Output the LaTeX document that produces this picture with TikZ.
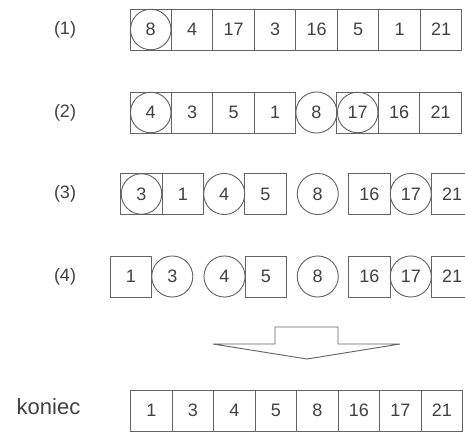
\documentclass[tikz,border=0pt]{standalone}
\usepackage{fontspec}
\setmainfont{Liberation Sans}
\usepackage{tikz}
\usetikzlibrary{positioning}
\definecolor{cLine}{RGB}{100,100,100}
\definecolor{cText}{RGB}{65,65,65}
\tikzset{
	cell/.style     ={rectangle, draw=cLine, line width=0.7pt, minimum width=31.1pt, minimum height=30.8pt, inner sep=0pt, outer sep=0pt, text=cText, font=\fontsize{13.5}{15}\selectfont},
	pivot/.style    ={circle, draw=cLine, line width=0.7pt, minimum size=30.8pt, inner sep=0pt, outer sep=0pt, text=cText, font=\fontsize{13.5}{15}\selectfont},
	pivotcell/.style={cell, path picture={\draw[cLine, line width=0.7pt] (path picture bounding box.center) circle (15.2pt);}},
	rowlbl/.style   ={text=cText, font=\fontsize{13.5}{15}\selectfont},
}

\begin{document}
\begin{tikzpicture}[x=0.75pt, y=-0.75pt]
	\useasboundingbox (0,0) rectangle (465,432);
	% row labels
	\node[rowlbl] (l1) at (65,29.5)  {(1)};
	\node[rowlbl] (l2) at (65,112.5) {(2)};
	\node[rowlbl] (l3) at (65,194)   {(3)};
	\node[rowlbl] (l4) at (65,276.5) {(4)};
	\node[rowlbl, font=\fontsize{16.5}{18}\selectfont] (lk) at (48.5,407) {koniec};
	% (1)
	\node[pivotcell] (a1) at (150.75,29.5) {8};
	\node[cell, right=0pt of a1] (a2) {4};
	\node[cell, right=0pt of a2] (a3) {17};
	\node[cell, right=0pt of a3] (a4) {3};
	\node[cell, right=0pt of a4] (a5) {16};
	\node[cell, right=0pt of a5] (a6) {5};
	\node[cell, right=0pt of a6] (a7) {1};
	\node[cell, right=0pt of a7] (a8) {21};
	% (2)
	\node[pivotcell] (b1) at (150.75,112.5) {4};
	\node[cell, right=0pt of b1] (b2) {3};
	\node[cell, right=0pt of b2] (b3) {5};
	\node[cell, right=0pt of b3] (b4) {1};
	\node[pivot, right=0pt of b4] (b5) {8};
	\node[pivotcell, right=0pt of b5] (b6) {17};
	\node[cell, right=0pt of b6] (b7) {16};
	\node[cell, right=0pt of b7] (b8) {21};
	% (3)
	\node[pivotcell] (c1) at (141.5,194) {3};
	\node[cell, right=0pt of c1] (c2) {1};
	\node[pivot, right=0pt of c2] (c3) {4};
	\node[cell, right=0pt of c3] (c4) {5};
	\node[pivot] (c5) at (317.75,194) {8};
	\node[cell] (c6) at (369.5,194) {16};
	\node[pivot, right=0pt of c6] (c7) {17};
	\node[cell, right=0pt of c7] (c8) {21};
	% (4)
	\node[cell] (d1) at (131,276.5) {1};
	\node[pivot, right=0pt of d1] (d2) {3};
	\node[pivot] (d3) at (224.5,276.5) {4};
	\node[cell, right=0pt of d3] (d4) {5};
	\node[pivot] (d5) at (317.75,276.5) {8};
	\node[cell] (d6) at (369.5,276.5) {16};
	\node[pivot, right=0pt of d6] (d7) {17};
	\node[cell, right=0pt of d7] (d8) {21};
	% wide arrow down
	\draw[cLine, line width=0.7pt] (275,344) -- (275,327) -- (338,327) -- (338,344) -- (400,344) -- (307,359) -- (213,344) -- cycle;
	% koniec
	\node[cell] (e1) at (151.5,410.5) {1};
	\node[cell, right=0pt of e1] (e2) {3};
	\node[cell, right=0pt of e2] (e3) {4};
	\node[cell, right=0pt of e3] (e4) {5};
	\node[cell, right=0pt of e4] (e5) {8};
	\node[cell, right=0pt of e5] (e6) {16};
	\node[cell, right=0pt of e6] (e7) {17};
	\node[cell, right=0pt of e7] (e8) {21};
\end{tikzpicture}
\end{document}
